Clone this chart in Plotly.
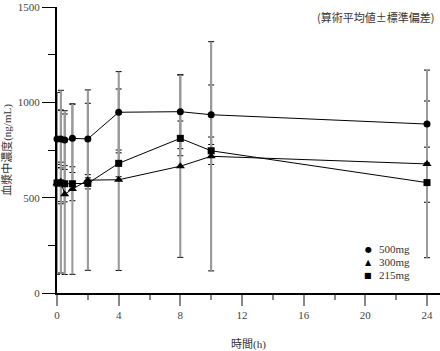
import plotly.graph_objects as go

# ---- data ----
hours = [0, 0.25, 0.5, 1, 2, 4, 8, 10, 24]
mean_500 = [808, 808, 802, 811, 808, 948, 951, 935, 886]
sd_500 = [150, 152, 154, 179, 187, 213, 194, 156, 121]
mean_300 = [575, 584, 518, 545, 592, 594, 665, 717, 677]
sd_300 = [477, 479, 421, 447, 473, 476, 478, 601, 492]
mean_215 = [577, 577, 573, 573, 575, 680, 811, 746, 579]
sd_215 = [97, 109, 95, 89, 29, 70, 91, 72, 103]
series_names = ["500mg", "300mg", "215mg"]
x_ticks = [0, 4, 8, 12, 16, 20, 24]
y_ticks = [0, 500, 1000, 1500]

W, H = 440, 351
L, R, T, B = 57, 0, 7, 58

def px_x(px):
    return (px - L) / (W - L - R)

def px_y(py):
    return (H - B - py) / (H - B - T)

series = [
    (mean_500, sd_500, "circle", 7),
    (mean_300, sd_300, "triangle-up", 8),
    (mean_215, sd_215, "square", 7),
]

fig = go.Figure()

# caps (black)
for m, sd, sym, sz in series:
    fig.add_trace(go.Scatter(
        x=hours, y=m, mode="markers", marker=dict(opacity=0, size=1),
        error_y=dict(type="data", array=sd, visible=True, color="black",
                     thickness=1, width=3),
        showlegend=False, hoverinfo="skip"))
# stems (gray)
for m, sd, sym, sz in series:
    fig.add_trace(go.Scatter(
        x=hours, y=m, mode="markers", marker=dict(opacity=0, size=1),
        error_y=dict(type="data", array=sd, visible=True, color="#9a9a9a",
                     thickness=2, width=0),
        showlegend=False, hoverinfo="skip"))
# lines + markers
for (m, sd, sym, sz), name in zip(series, series_names):
    fig.add_trace(go.Scatter(
        x=hours, y=m, mode="lines+markers", name=name,
        line=dict(color="black", width=1),
        marker=dict(symbol=sym, size=sz, color="black"),
        cliponaxis=False, showlegend=False))

font_serif = "Liberation Serif, Noto Sans CJK JP"

fig.update_layout(
    width=W, height=H,
    margin=dict(l=L, r=R, t=T, b=B),
    paper_bgcolor="white", plot_bgcolor="white",
    font=dict(family=font_serif, size=11, color="#333333"),
    xaxis=dict(
        range=[0, 24 + 13 / 15.42], showgrid=False, zeroline=False,
        showline=True, linecolor="black", linewidth=2,
        tickmode="array", tickvals=x_ticks, ticks="outside", ticklen=11,
        tickcolor="#888888", tickwidth=2,
        minor=dict(dtick=2, ticks="outside", ticklen=5, tickcolor="#888888", tickwidth=2),
        tickfont=dict(family=font_serif, size=11, color="#444444"),
        title=dict(text="時間(h)", font=dict(family=font_serif, size=11, color="#333333"),
                   standoff=22),
    ),
    yaxis=dict(
        range=[0, 1500], showgrid=False, zeroline=False,
        showline=True, linecolor="black", linewidth=2,
        tickmode="array", tickvals=y_ticks, ticks="outside", ticklen=13,
        tickcolor="black", tickwidth=1,
        minor=dict(dtick=250, ticks="outside", ticklen=7, tickcolor="black", tickwidth=1),
        tickfont=dict(family=font_serif, size=11, color="#444444"),
        title=dict(text="血漿中濃度(ng/mL)", font=dict(family=font_serif, size=11, color="#333333"),
                   standoff=6),
    ),
)

annotations = [
    dict(text="(算術平均値±標準偏差)", x=px_x(436), y=px_y(17), xref="paper", yref="paper",
         xanchor="right", yanchor="middle", showarrow=False,
         font=dict(family="Noto Sans CJK JP", size=11, color="#333333")),
]
symbols = ["●", "▲", "■"]
rows = [249, 262, 275]
for s, name, ry in zip(symbols, series_names, rows):
    annotations.append(dict(text=s, x=px_x(368), y=px_y(ry), xref="paper", yref="paper",
                            xanchor="center", yanchor="middle", showarrow=False,
                            font=dict(family="DejaVu Sans", size=8, color="black")))
    annotations.append(dict(text=name, x=px_x(377), y=px_y(ry), xref="paper", yref="paper",
                            xanchor="left", yanchor="middle", showarrow=False,
                            font=dict(family=font_serif, size=11, color="#333333")))
fig.update_layout(annotations=annotations)

fig.write_html("out.html")
